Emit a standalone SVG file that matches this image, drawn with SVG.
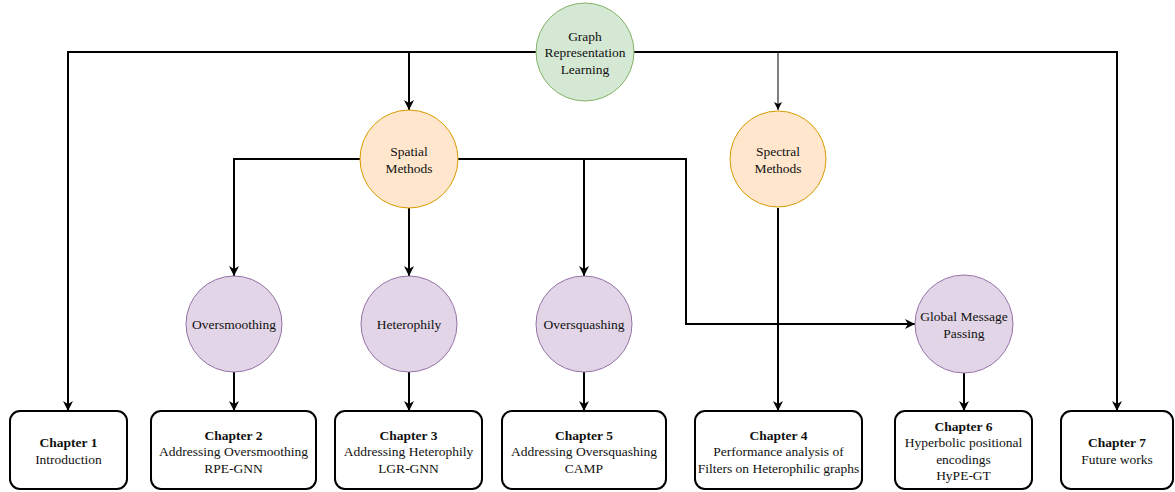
<svg xmlns="http://www.w3.org/2000/svg" width="1175" height="492" viewBox="0 0 1175 492">
  <style>
    text { font-family: "Liberation Serif", "Times New Roman", serif; font-size: 13.5px; fill: #111; text-anchor: middle; dominant-baseline: central; }
    .b { font-weight: bold; }
    .root { fill: #d5e8d4; stroke: #82b366; stroke-width: 1; }
    .method { fill: #ffe6cc; stroke: #d79b00; stroke-width: 1; }
    .topic { fill: #e1d5e7; stroke: #9673a6; stroke-width: 1; }
    .chap { fill: #ffffff; stroke: #000; stroke-width: 2; }
    .edge { fill: none; stroke: #000; stroke-width: 2; marker-end: url(#arrow); }
    .thin { fill: none; stroke: #000; stroke-width: 1; marker-end: url(#arrowThin); }
  </style>
  <defs>
    <marker id="arrow" markerUnits="userSpaceOnUse" markerWidth="12" markerHeight="12" viewBox="0 0 12 12" refX="11" refY="6" orient="auto">
      <path d="M1,1 L11,6 L1,11 L4,6 Z" fill="#000"/>
    </marker>
    <marker id="arrowThin" markerUnits="userSpaceOnUse" markerWidth="10" markerHeight="10" viewBox="0 0 10 10" refX="9" refY="5" orient="auto">
      <path d="M1,1 L9,5 L1,9 L3,5 Z" fill="#000"/>
    </marker>
  </defs>

  <rect width="1175" height="492" fill="#ffffff"/>

  <!-- connectors -->
  <g id="connectors">
    <path class="edge" d="M536,52 H68 V411"/>
    <path class="edge" d="M634,52 H1117 V411"/>
    <path class="edge" d="M409,52 V110"/>
    <path class="thin" d="M778,52 V110"/>
    <path class="edge" d="M360,159 H234 V276"/>
    <path class="edge" d="M409,208 V276"/>
    <path class="edge" d="M458,159 H686 V324 H915"/>
    <path class="edge" d="M584,159 V276"/>
    <path class="edge" d="M778,208 V411"/>
    <path class="edge" d="M234,372 V411"/>
    <path class="edge" d="M409,372 V411"/>
    <path class="edge" d="M584,372 V411"/>
    <path class="edge" d="M964,373 V411"/>
  </g>

  <!-- circle nodes -->
  <g id="graph-representation-learning">
    <circle class="root" cx="585" cy="52" r="49"/>
    <text x="585" y="36">Graph</text>
    <text x="585" y="52">Representation</text>
    <text x="585" y="69">Learning</text>
  </g>
  <g id="spatial-methods">
    <circle class="method" cx="409" cy="159" r="49"/>
    <text x="409" y="151">Spatial</text>
    <text x="409" y="168">Methods</text>
  </g>
  <g id="spectral-methods">
    <circle class="method" cx="778" cy="159" r="48"/>
    <text x="778" y="151">Spectral</text>
    <text x="778" y="168">Methods</text>
  </g>
  <g id="oversmoothing">
    <circle class="topic" cx="234" cy="324" r="48"/>
    <text x="234" y="324">Oversmoothing</text>
  </g>
  <g id="heterophily">
    <circle class="topic" cx="409" cy="324" r="48"/>
    <text x="409" y="324">Heterophily</text>
  </g>
  <g id="oversquashing">
    <circle class="topic" cx="584" cy="324" r="48"/>
    <text x="584" y="324">Oversquashing</text>
  </g>
  <g id="global-message-passing">
    <circle class="topic" cx="964" cy="324" r="49"/>
    <text x="964" y="316">Global Message</text>
    <text x="964" y="333">Passing</text>
  </g>

  <!-- chapter boxes -->
  <g id="chapter-1">
    <rect class="chap" x="10" y="411" width="117" height="78" rx="10"/>
    <text class="b" x="68.5" y="442">Chapter 1</text>
    <text x="68.5" y="459">Introduction</text>
  </g>
  <g id="chapter-2">
    <rect class="chap" x="151" y="411" width="165" height="78" rx="10"/>
    <text class="b" x="233.5" y="435">Chapter 2</text>
    <text x="233.5" y="451.5">Addressing Oversmoothing</text>
    <text x="233.5" y="468">RPE-GNN</text>
  </g>
  <g id="chapter-3">
    <rect class="chap" x="335" y="411" width="147" height="78" rx="10"/>
    <text class="b" x="408.5" y="435">Chapter 3</text>
    <text x="408.5" y="451.5">Addressing Heterophily</text>
    <text x="408.5" y="468">LGR-GNN</text>
  </g>
  <g id="chapter-5">
    <rect class="chap" x="502" y="411" width="164" height="78" rx="10"/>
    <text class="b" x="584" y="435">Chapter 5</text>
    <text x="584" y="451.5">Addressing Oversquashing</text>
    <text x="584" y="468">CAMP</text>
  </g>
  <g id="chapter-4">
    <rect class="chap" x="695" y="411" width="167" height="78" rx="10"/>
    <text class="b" x="778.5" y="435">Chapter 4</text>
    <text x="778.5" y="451.5">Performance analysis of</text>
    <text x="778.5" y="468">Filters on Heterophilic graphs</text>
  </g>
  <g id="chapter-6">
    <rect class="chap" x="895" y="411" width="137" height="78" rx="10"/>
    <text class="b" x="963.5" y="426">Chapter 6</text>
    <text x="963.5" y="442">Hyperbolic positional</text>
    <text x="963.5" y="459">encodings</text>
    <text x="963.5" y="475">HyPE-GT</text>
  </g>
  <g id="chapter-7">
    <rect class="chap" x="1061" y="411" width="112" height="78" rx="10"/>
    <text class="b" x="1117" y="442">Chapter 7</text>
    <text x="1117" y="459">Future works</text>
  </g>
</svg>
